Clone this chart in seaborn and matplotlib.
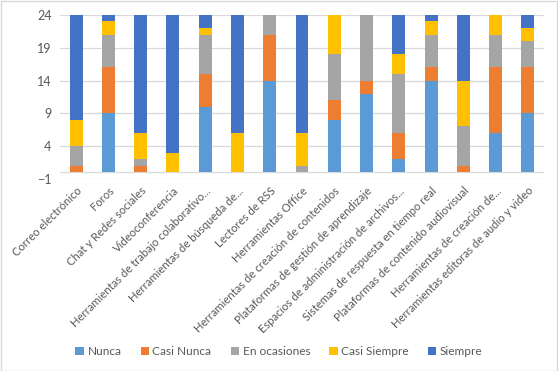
import matplotlib
matplotlib.use("Agg")
import matplotlib.pyplot as plt
import seaborn as sns
import pandas as pd
import numpy as np
from matplotlib.patches import Rectangle, Patch

categories = [
    "Correo electrónico", "Foros", "Chat y Redes sociales", "Videoconferencia",
    "Herramientas de trabajo colaborativo...", "Herramientas de búsqueda de...",
    "Lectores de RSS", "Herramientas Office", "Herramientas de creación de contenidos",
    "Plataformas de gestión de aprendizaje", "Espacios de administración de archivos...",
    "Sistemas de respuesta en tiempo real", "Plataformas de contenido audiovisual",
    "Herramientas de creación de...", "Herramientas editoras de audio y video",
]
series_names = ["Nunca", "Casi Nunca", "En ocasiones", "Casi Siempre", "Siempre"]
nunca        = [0, 9, 0, 0, 10, 0, 14, 0, 8, 12, 2, 14, 0, 6, 9]
casi_nunca   = [1, 7, 1, 0, 5, 0, 7, 0, 3, 2, 4, 2, 1, 10, 7]
en_ocasiones = [3, 5, 1, 0, 6, 0, 3, 1, 7, 10, 9, 5, 6, 5, 4]
casi_siempre = [4, 2, 4, 3, 1, 6, 0, 5, 6, 0, 3, 2, 7, 3, 2]
siempre      = [16, 1, 18, 21, 2, 18, 0, 18, 0, 0, 6, 1, 10, 0, 2]
y_ticks = [-1, 4, 9, 14, 19, 24]

colors = ["#5B9BD5", "#ED7D31", "#A5A5A5", "#FFC000", "#4472C4"]

sns.set_theme(style="white")
plt.rcParams["font.family"] = ["Lato", "DejaVu Sans"]

values = [nunca, casi_nunca, en_ocasiones, casi_siempre, siempre]
cum = np.cumsum(np.array(values), axis=0)

fig = plt.figure(figsize=(5.58, 3.71), dpi=100)
ax = fig.add_axes([0.1075, 0.5175, 0.8675, 0.4425])

for i in range(len(series_names) - 1, -1, -1):
    df = pd.DataFrame({"cat": categories, "val": cum[i]})
    sns.barplot(data=df, x="cat", y="val", color=colors[i], saturation=1,
                width=0.4, ax=ax, zorder=3, linewidth=0)

ax.set_ylim(-1, 24)
ax.set_yticks(y_ticks)
ax.set_xlim(-0.5, len(categories) - 0.5)
ax.set_xlabel("")
ax.set_ylabel("")
for y in y_ticks:
    ax.axhline(y, color="#D9D9D9", linewidth=0.9, zorder=1)
ax.axhline(0, color="#D9D9D9", linewidth=0.9, zorder=1)
for s in ax.spines.values():
    s.set_visible(False)
ax.tick_params(axis="y", length=0, labelsize=9, labelcolor="#595959", pad=6)
ax.tick_params(axis="x", length=0, labelsize=8.1, labelcolor="#595959", pad=4.5)
ax.set_xticks(range(len(categories)))
ax.set_xticklabels(categories, rotation=45, ha="right", rotation_mode="anchor", va="top")

handles = [Patch(facecolor=c, edgecolor="none") for c in colors]
fig.legend(handles, series_names, loc="center", bbox_to_anchor=(0.5, 0.052), ncol=5,
           frameon=False, fontsize=8.6, labelcolor="#595959", handlelength=0.7,
           handleheight=0.7, handletextpad=0.3, columnspacing=1.6)

fig.patches.append(Rectangle((0.001, 0.001), 0.997, 0.996, transform=fig.transFigure,
                             fill=False, edgecolor="#D9D9D9", linewidth=1))
fig.savefig("out.png", dpi=100)
